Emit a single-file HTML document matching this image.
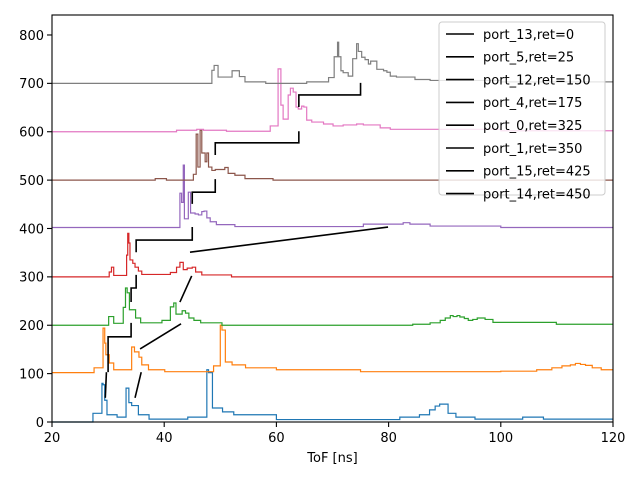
<!DOCTYPE html>
<html><head><meta charset="utf-8"><style>
html,body{margin:0;padding:0;background:#fff;}
svg{display:block;font-family:"DejaVu Sans","Liberation Sans",sans-serif;}
</style></head><body>
<svg id="chart" width="640" height="480" viewBox="0 0 640 480" xmlns="http://www.w3.org/2000/svg">
<rect width="640" height="480" fill="#fff"/>
<g id="plot"></g>
<g id="axes"></g>
<g id="legend"></g>
</svg>
<script>
const offsets = [0,100,200,300,400,500,600,700];
const colors = ["#1f77b4","#ff7f0e","#2ca02c","#d62728","#9467bd","#8c564b","#e377c2","#7f7f7f"];
const legendLabels = ["port_13,ret=0","port_5,ret=25","port_12,ret=150","port_4,ret=175","port_0,ret=325","port_1,ret=350","port_15,ret=425","port_14,ret=450"];
const xTicks = [20,40,60,80,100,120];
const yTicks = [0,100,200,300,400,500,600,700,800];

const s0x = [20,27.3,28.9,29.1,29.4,29.8,31.6,33.2,33.7,34.2,35.4,37.3,44.2,47.6,47.9,48.6,50.4,52.4,60,82,85.5,87.3,88.3,89.1,90.6,92,95.4,103.9,107.6];
const s0v = [0,18,80,77,45,15,10,70,40,34,15,6,10,108,102,29,21,15,5,10,15,25,33,37,18,10,6,10,6];
const s1x = [20,27.5,29.1,29.4,29.6,30.2,31,34.2,34.7,35.5,36,37.2,40.1,48.8,50,50.3,50.9,52.1,54.5,60,75,100,106.4,109.1,110.9,112.4,113.3,114.2,115.1,116.3,117.9];
const s1v = [2,12,94,63,39,22,8,55,45,34,18,8,4,16,100,90,24,18,12,8,4,5,8,12,16,18,21,19,17,12,8];
const s2x = [20,30.1,31,32.7,33.1,33.4,33.8,34.9,35.8,39.6,41.1,41.7,42.1,43.2,43.8,44.4,45.3,46.5,50.3,84.3,87.4,89.2,90.1,91,91.5,92.2,92.7,93.5,94.2,95,95.8,97.2,98.6,109.9];
const s2v = [0,18,4,37,77,67,32,15,5,10,38,46,23,30,25,15,10,5,0,2,5,10,15,20,18,20,17,14,10,12,15,12,6,2,0];
const s3x = [20,30.2,30.6,31,33.3,33.5,33.7,33.9,34.4,34.8,35.4,36,41.1,42.2,42.8,43.4,44.1,45,45.6,46.7,52];
const s3v = [0,10,20,3,45,90,70,35,28,20,12,5,9,20,30,15,18,20,10,4,0];
const s4x = [20,42.8,43.1,43.4,43.6,44.3,44.7,45.5,46.1,46.7,47.1,47.6,48.2,49.3,52.6,75.5,82.6,83.8,87.4,100];
const s4v = [2,73,54,131,20,75,32,30,28,35,36,22,14,8,4,9,12,9,5,2];
const s5x = [20,38.4,40.4,45.2,45.7,46,46.4,46.7,47.3,47.6,47.9,48.5,49.1,50.8,51.4,52.6,54.4,59.4];
const s5v = [0,3,0,12,95,27,103,56,38,56,27,20,22,26,14,10,3,0];
const s6x = [20,42.2,45.8,47,51.1,58.9,60.3,60.8,61.2,62.1,62.5,63,63.5,63.9,64.5,64.9,65.4,66.3,68.4,70.1,71.9,74.3,75.5,78.5,80.3,100];
const s6v = [0,3,5,3,1,12,130,55,26,76,90,82,51,47,53,51,24,20,16,12,14,16,14,8,5,2];
const s7x = [20,48.5,48.9,49.6,52.1,53.4,54.4,58.1,65.4,69.3,70.3,70.9,71.1,71.5,71.9,72.8,73.6,74.3,74.6,75.2,75.8,76.4,76.8,77.9,79.1,79.7,80.3,81.4,84.7,87.4,100];
const s7v = [0,27,37,13,26,14,3,0,3,12,55,85,55,26,22,15,51,82,66,54,49,40,46,29,26,23,15,13,8,6,3];
const seriesX = [s0x,s1x,s2x,s3x,s4x,s5x,s6x,s7x];
const seriesV = [s0v,s1v,s2v,s3v,s4v,s5v,s6v,s7v];

const guideA = [[29.5,50],[29.7,103]];
const guideB = [[30,103],[30,176],[34.1,176],[34.1,205]];
const guideC = [[34.1,248],[34.1,277],[35,277],[35,304]];
const guideD = [[35,351],[35,376],[45,376],[45,403]];
const guideE = [[45,451],[45,475],[49.1,475],[49.1,502]];
const guideF = [[49.1,552],[49.1,577],[64,577],[64,601]];
const guideG = [[64,651],[64,676],[75,676],[75,701]];
const guideH = [[34.8,50],[35.9,103]];
const guideI = [[35.7,151],[43,203]];
const guideJ = [[42.8,248],[44.9,302]];
const guideK = [[44.6,351],[79.9,403]];
const guides = [guideA,guideB,guideC,guideD,guideE,guideF,guideG,guideH,guideI,guideJ,guideK];

const X0=52,X1=613,Y0=422,YT=15;
const xMin=20,xMax=120,yMin=0,yMax=841.3;
function sx(v){return X0+(v-xMin)/(xMax-xMin)*(X1-X0);}
function sy(v){return Y0-(v-yMin)/(yMax-yMin)*(Y0-YT);}
const NS="http://www.w3.org/2000/svg";
function mk(tag,attrs,parent){const e=document.createElementNS(NS,tag);for(const k in attrs)e.setAttribute(k,attrs[k]);parent.appendChild(e);return e;}
const plot=document.getElementById('plot'),axes=document.getElementById('axes'),legend=document.getElementById('legend');

for(let s=0;s<seriesX.length;s++){
  const xs=seriesX[s],vs=seriesV[s],off=offsets[s];
  let d='M'+sx(xs[0]).toFixed(2)+','+sy(off+vs[0]).toFixed(2);
  for(let i=0;i<xs.length;i++){
    const xe = i+1<xs.length?xs[i+1]:xMax;
    d+=' H'+sx(xe).toFixed(2);
    if(i+1<xs.length) d+=' V'+sy(off+vs[i+1]).toFixed(2);
  }
  const p=mk('path',{d:d,fill:'none',stroke:colors[s],'stroke-width':1.2},plot);
  
  
}
for(let g=0;g<guides.length;g++){
  const pts=guides[g].map(p=>sx(p[0]).toFixed(2)+','+sy(p[1]).toFixed(2)).join(' ');
  const l=mk('polyline',{points:pts,fill:'none',stroke:'#000','stroke-width':1.6},plot);
  
  
}

const frame=mk('rect',{x:X0,y:YT,width:X1-X0,height:Y0-YT,fill:'none',stroke:'#000','stroke-width':1.1},axes);


for(const t of xTicks){
  const x=sx(t);
  const tk=mk('line',{x1:x,x2:x,y1:Y0,y2:Y0+5,stroke:'#000','stroke-width':1.1},axes);
  
  
  const tx=mk('text',{x:x,y:Y0+20,'font-size':13,'text-anchor':'middle',fill:'#000'},axes);
  tx.textContent=t;
  
  
}
for(const t of yTicks){
  const y=sy(t);
  const tk=mk('line',{x1:X0-5,x2:X0,y1:y,y2:y,stroke:'#000','stroke-width':1.1},axes);
  
  
  const tx=mk('text',{x:X0-8,y:y+4.8,'font-size':13,'text-anchor':'end',fill:'#000'},axes);
  tx.textContent=t;
  
  
}
const xl=mk('text',{x:(X0+X1)/2,y:462,'font-size':13,'text-anchor':'middle',fill:'#000'},axes);
xl.textContent='ToF [ns]';



const lb=mk('rect',{x:439,y:22,width:166,height:173,rx:3,fill:'#fff','fill-opacity':0.8,stroke:'#ccc','stroke-width':1},legend);


for(let i=0;i<legendLabels.length;i++){
  const y=34+i*22.8;
  const g=mk('g',{},legend);
  
  
  mk('line',{x1:446,x2:474,y1:y,y2:y,stroke:'#000','stroke-width':1.6},g);
  const t=mk('text',{x:483,y:y+4.8,'font-size':13,fill:'#000'},g);
  t.textContent=legendLabels[i];
}
</script>
</body></html>
